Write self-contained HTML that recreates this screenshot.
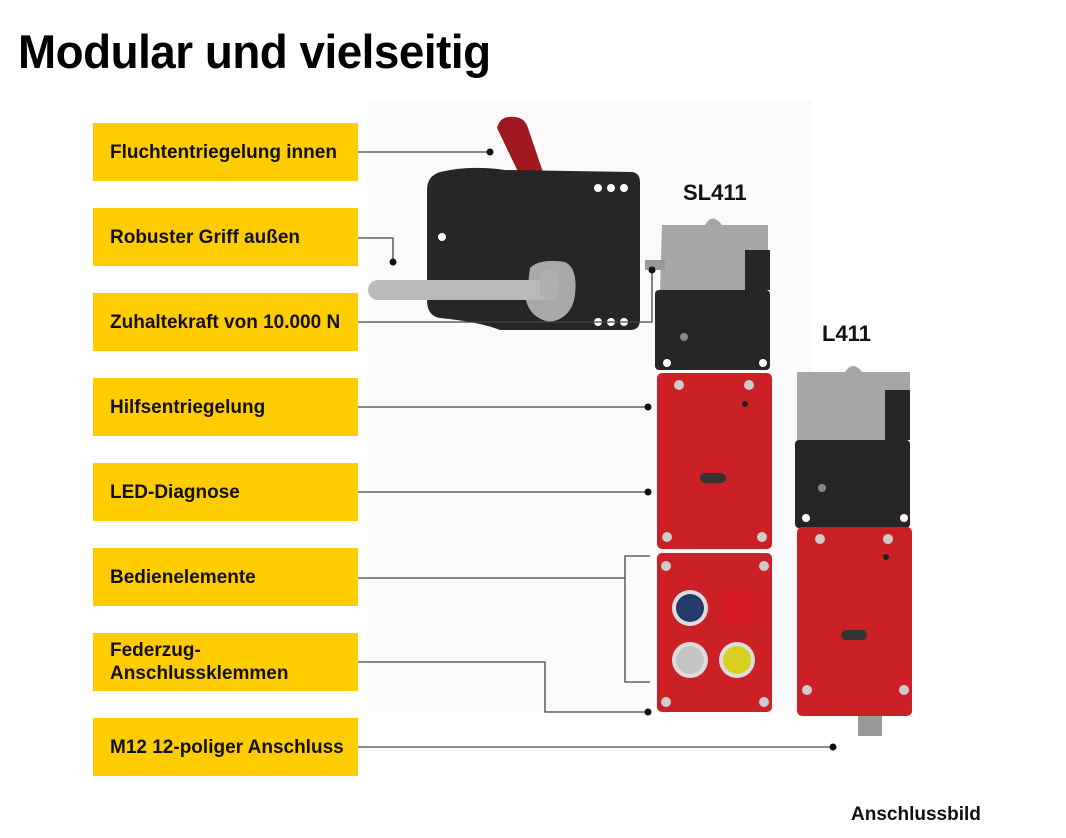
<!DOCTYPE html>
<html><head><meta charset="utf-8"><style>
body{margin:0;width:1066px;height:838px;background:#fff;position:relative;overflow:hidden;font-family:"Liberation Sans Narrow","Liberation Sans",sans-serif}
.t{position:absolute;left:18px;top:24px;font-size:47px;font-weight:bold;white-space:nowrap;transform-origin:0 0;transform:scaleX(0.974);letter-spacing:-0.5px}
.b{position:absolute;left:93px;width:265px;height:58px;background:#ffcc00;font-weight:bold;font-size:19px;color:#111;display:flex;align-items:center;padding-left:17px;box-sizing:border-box;line-height:23px}
.l{position:absolute;font-weight:bold;font-size:22px;color:#111}
svg{position:absolute;left:0;top:0}
</style></head><body>
<svg width="1066" height="838">
<rect x="368" y="100" width="444" height="612" fill="#fafafa"/>
<path d="M497 128 Q500 115 515 117 Q525 118 528 128 L545 178 L522 180 Z" fill="#a01822"/>
<path d="M440 172 Q470 165 505 170 L632 172 Q640 173 640 182 L640 320 Q640 330 630 330 L500 330 Q480 322 440 318 Q427 316 427 300 L427 190 Q427 176 440 172 Z" fill="#262626"/>
<circle cx="598" cy="188" r="4" fill="#fff"/><circle cx="611" cy="188" r="4" fill="#fff"/><circle cx="624" cy="188" r="4" fill="#fff"/>
<circle cx="598" cy="322" r="4" fill="#fff"/><circle cx="611" cy="322" r="4" fill="#fff"/><circle cx="624" cy="322" r="4" fill="#fff"/>
<circle cx="442" cy="237" r="4" fill="#fff"/>
<path d="M530 268 Q540 258 565 262 Q578 268 575 295 Q572 318 550 322 Q530 318 526 300 Z" fill="#a9a9a9"/>
<rect x="368" y="280" width="185" height="20" rx="10" fill="#b9b9b9"/>
<rect x="540" y="270" width="18" height="30" rx="9" fill="#b0b0b0"/>
<path d="M662 225 L705 225 Q712 212 722 225 L768 225 L768 290 L660 290 Z" fill="#a6a6a6"/>
<path d="M745 250 L770 250 L770 290 L745 290 Z" fill="#262626"/>
<rect x="645" y="260" width="20" height="10" fill="#999"/>
<rect x="655" y="290" width="115" height="80" rx="4" fill="#262626"/>
<circle cx="684" cy="337" r="4" fill="#888"/>
<circle cx="667" cy="363" r="4" fill="#fff"/><circle cx="763" cy="363" r="4" fill="#fff"/>
<rect x="657" y="373" width="115" height="176" rx="5" fill="#cc2027"/>
<rect x="700" y="473" width="26" height="10" rx="5" fill="#333"/>
<circle cx="745" cy="404" r="3" fill="#222"/>
<g fill="#ccc"><circle cx="679" cy="385" r="5"/><circle cx="749" cy="385" r="5"/><circle cx="667" cy="537" r="5"/><circle cx="762" cy="537" r="5"/></g>
<rect x="657" y="553" width="115" height="159" rx="5" fill="#cc2027"/>
<g fill="#ccc"><circle cx="666" cy="566" r="5"/><circle cx="764" cy="566" r="5"/><circle cx="666" cy="702" r="5"/><circle cx="764" cy="702" r="5"/></g>
<circle cx="690" cy="608" r="18" fill="#ddd"/><circle cx="690" cy="608" r="14" fill="#233a6a"/>
<circle cx="737" cy="608" r="17" fill="#d51a22"/>
<circle cx="690" cy="660" r="18" fill="#ddd"/><circle cx="690" cy="660" r="14" fill="#c4c4c4"/>
<circle cx="737" cy="660" r="18" fill="#ddd"/><circle cx="737" cy="660" r="14" fill="#d8d01e"/>
<path d="M797 372 L845 372 Q853 360 862 372 L910 372 L910 440 L797 440 Z" fill="#a6a6a6"/>
<path d="M885 390 L910 390 L910 440 L885 440 Z" fill="#262626"/>
<rect x="795" y="440" width="115" height="88" rx="4" fill="#262626"/>
<circle cx="822" cy="488" r="4" fill="#888"/>
<circle cx="806" cy="518" r="4" fill="#fff"/><circle cx="904" cy="518" r="4" fill="#fff"/>
<rect x="797" y="527" width="115" height="189" rx="5" fill="#cc2027"/>
<rect x="841" y="630" width="26" height="10" rx="5" fill="#333"/>
<g fill="#ccc"><circle cx="820" cy="539" r="5"/><circle cx="888" cy="539" r="5"/><circle cx="807" cy="690" r="5"/><circle cx="904" cy="690" r="5"/></g>
<circle cx="886" cy="557" r="3" fill="#222"/>
<rect x="858" y="716" width="24" height="20" fill="#999"/>
<g stroke="#444" stroke-width="1.3" fill="none">
<path d="M358 152 H490"/>
<path d="M358 238 H393 V262"/>
<path d="M358 322 H652 V272"/>
<path d="M358 407 H648"/>
<path d="M358 492 H648"/>
<path d="M358 578 H625"/>
<path d="M650 556 H625 V682 H650"/>
<path d="M358 662 H545 V712 H648"/>
<path d="M358 747 H833"/>
</g>
<g fill="#111"><circle cx="490" cy="152" r="3.5"/><circle cx="393" cy="262" r="3.5"/><circle cx="652" cy="270" r="3.5"/><circle cx="648" cy="407" r="3.5"/><circle cx="648" cy="492" r="3.5"/><circle cx="648" cy="712" r="3.5"/><circle cx="833" cy="747" r="3.5"/></g>
</svg>
<div class="t">Modular und vielseitig</div>
<div class="b" style="top:123px">Fluchtentriegelung innen</div>
<div class="b" style="top:208px">Robuster Griff außen</div>
<div class="b" style="top:293px">Zuhaltekraft von 10.000 N</div>
<div class="b" style="top:378px">Hilfsentriegelung</div>
<div class="b" style="top:463px">LED-Diagnose</div>
<div class="b" style="top:548px">Bedienelemente</div>
<div class="b" style="top:633px">Federzug-<br>Anschlussklemmen</div>
<div class="b" style="top:718px">M12 12-poliger Anschluss</div>
<div class="l" style="left:683px;top:180px">SL411</div>
<div class="l" style="left:822px;top:321px">L411</div>
<div class="l" style="left:851px;top:804px;font-size:19px">Anschlussbild</div>
</body></html>
